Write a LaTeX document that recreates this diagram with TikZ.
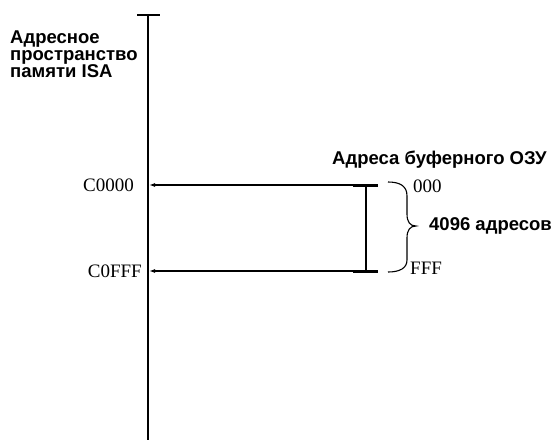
\documentclass[tikz,border=0pt]{standalone}
\usepackage{fontspec}
\setmainfont{Liberation Serif}
\newfontfamily\lblfont{Liberation Sans}
\usetikzlibrary{arrows.meta}
\begin{document}
\begin{tikzpicture}[x=1pt,y=-1pt,
  lbl/.style={font=\lblfont\bfseries\fontsize{18.5}{17}\selectfont, inner sep=0pt},
  hex/.style={font=\fontsize{19}{21}\selectfont, inner sep=0pt},
  axis/.style={line width=1.8pt},
  link/.style={line width=1.4pt},
  tip/.style={-{Latex[length=6pt,width=4pt]}}]
\useasboundingbox (0,0) rectangle (555,440);
% axis
\coordinate (atop) at (148,15);
\coordinate (abot) at (148,440);
\coordinate (tl) at (137,15);
\coordinate (tr) at (160,15);
\draw[axis] (atop) -- (abot);
\draw[axis] (tl) -- (tr);
% address points
\coordinate (a0) at (149,185);
\coordinate (a1) at (149,271);
\coordinate (r0) at (378,185);
\coordinate (r1) at (378,271);
\coordinate (k0) at (353,185);
\coordinate (k1) at (353,271);
\coordinate (v0) at (366,185);
\coordinate (v1) at (366,271);
\draw[link,tip] (r0) -- (a0);
\draw[link,tip] (r1) -- (a1);
\draw[line width=3pt] (k0) -- (r0);
\draw[line width=3pt] (k1) -- (r1);
\draw[line width=2pt] (v0) -- (v1);
% brace
\coordinate (btop) at (388,182);
\coordinate (bmid) at (416,226);
\coordinate (bbot) at (388,272);
\draw[line width=1.1pt] (btop) .. controls (400,182) and (407,186) .. (407,196)
  -- (407,214) .. controls (407,222) and (410,226) .. (bmid)
  .. controls (410,226) and (407,230) .. (407,238)
  -- (407,260) .. controls (407,268) and (400,272) .. (bbot);
% labels
\node[lbl, align=left, anchor=north west] (title) at (10,31)
  {Адресное\\пространство\\памяти ISA};
\node[hex, anchor=east] (c0) at (134,185) {C0000};
\node[hex, anchor=east] (c1) at (142,271) {C0FFF};
\node[lbl, anchor=west] (buf) at (332,160) {Адреса буферного ОЗУ};
\node[hex, anchor=west] (z0) at (413,186) {000};
\node[hex, anchor=west] (z1) at (410,268) {FFF};
\node[lbl, anchor=west] (cnt) at (429,226) {4096 адресов};
\end{tikzpicture}
\end{document}
